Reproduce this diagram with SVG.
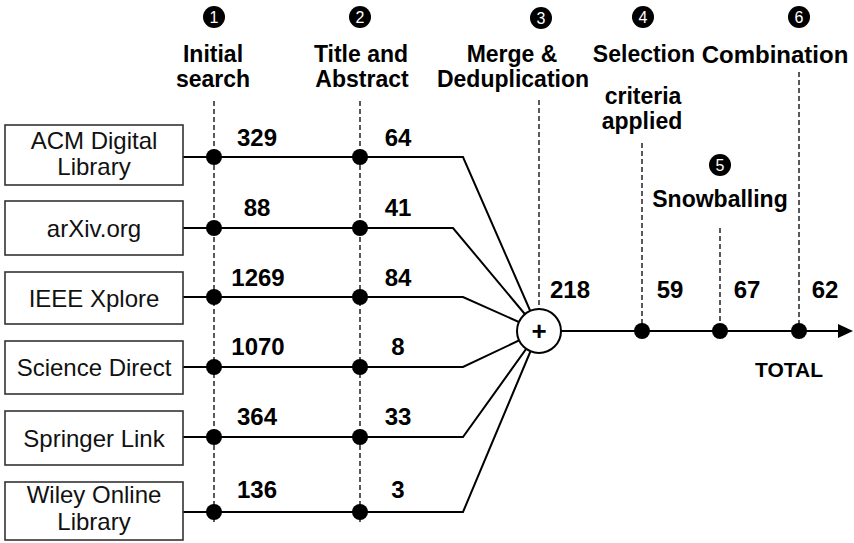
<svg xmlns="http://www.w3.org/2000/svg" width="854" height="543" viewBox="0 0 854 543">
<style>
.box{fill:#fff;stroke:#333;stroke-width:1.6}
.lbl{font-family:"Liberation Sans",Arial,sans-serif;font-size:24px;fill:#111;text-anchor:middle}
.b{font-family:"Liberation Sans",Arial,sans-serif;font-size:23px;font-weight:bold;fill:#000;text-anchor:middle}
.num{font-family:"Liberation Sans",Arial,sans-serif;font-size:24px;font-weight:bold;fill:#000;text-anchor:middle}
.n{font-family:"Liberation Sans",Arial,sans-serif;font-size:16px;fill:#fff;text-anchor:middle}
.dash{stroke:#000;stroke-width:1.3;stroke-dasharray:5 3;fill:none}
.ln{stroke:#000;stroke-width:2;fill:none}
.dot{fill:#000}
</style>
<rect width="854" height="543" fill="#fff"/>
<g id="headers">
  <circle cx="214" cy="17" r="11" fill="#000"/><text class="n" x="214" y="23">1</text>
  <text class="b" x="213" y="62">Initial</text><text class="b" x="213" y="87">search</text>
  <circle cx="360" cy="17" r="11" fill="#000"/><text class="n" x="360" y="23">2</text>
  <text class="b" x="361" y="62">Title and</text><text class="b" x="362" y="87">Abstract</text>
  <circle cx="541" cy="18" r="11" fill="#000"/><text class="n" x="541" y="24">3</text>
  <text class="b" x="512" y="62">Merge &amp;</text><text class="b" x="513" y="87">Deduplication</text>
  <circle cx="643" cy="17" r="11" fill="#000"/><text class="n" x="643" y="23">4</text>
  <text class="b" x="644" y="62">Selection</text><text class="b" x="643" y="104">criteria</text><text class="b" x="642" y="129">applied</text>
  <circle cx="799" cy="17" r="11" fill="#000"/><text class="n" x="799" y="23">6</text>
  <text class="b" x="775" y="63" style="font-size:24px">Combination</text>
  <circle cx="720" cy="165" r="11" fill="#000"/><text class="n" x="720" y="171">5</text>
  <text class="b" x="720" y="207">Snowballing</text>
</g>
<g id="connectors">
  <line class="dash" x1="214" y1="101" x2="214" y2="524"/>
  <line class="dash" x1="360" y1="101" x2="360" y2="524"/>
  <line class="dash" x1="539" y1="100" x2="539" y2="309"/>
  <line class="dash" x1="642" y1="143" x2="642" y2="331"/>
  <line class="dash" x1="720" y1="228" x2="720" y2="331"/>
  <line class="dash" x1="799" y1="72" x2="799" y2="331"/>
  <polyline class="ln" points="183,157 463,157 539,331"/>
  <polyline class="ln" points="183,228 453,228 539,331"/>
  <polyline class="ln" points="183,297 463,297 539,331"/>
  <polyline class="ln" points="183,367 463,367 539,331"/>
  <polyline class="ln" points="183,437 463,437 539,331"/>
  <polyline class="ln" points="183,512 463,512 539,331"/>
  <line class="ln" x1="561" y1="331" x2="840" y2="331"/>
  <polygon points="853,331 838,324 838,338" fill="#000"/>
  <circle class="dot" cx="214" cy="157" r="8"/><circle class="dot" cx="360" cy="157" r="8"/>
  <circle class="dot" cx="214" cy="228" r="8"/><circle class="dot" cx="360" cy="228" r="8"/>
  <circle class="dot" cx="214" cy="297" r="8"/><circle class="dot" cx="360" cy="297" r="8"/>
  <circle class="dot" cx="214" cy="367" r="8"/><circle class="dot" cx="360" cy="367" r="8"/>
  <circle class="dot" cx="214" cy="437" r="8"/><circle class="dot" cx="360" cy="437" r="8"/>
  <circle class="dot" cx="214" cy="512" r="8"/><circle class="dot" cx="360" cy="512" r="8"/>
  <circle class="dot" cx="642" cy="331" r="8"/><circle class="dot" cx="720" cy="331" r="8"/><circle class="dot" cx="799" cy="331" r="8"/>
</g>
<g id="merge">
  <circle cx="539" cy="331" r="22" fill="#fff" stroke="#000" stroke-width="2"/>
  <text class="b" x="539" y="340" style="font-size:26px">+</text>
</g>
<g id="counts">
  <text class="num" x="257" y="146">329</text><text class="num" x="398" y="146">64</text>
  <text class="num" x="257" y="216">88</text><text class="num" x="398" y="216">41</text>
  <text class="num" x="258" y="286">1269</text><text class="num" x="398" y="286">84</text>
  <text class="num" x="258" y="355">1070</text><text class="num" x="398" y="355">8</text>
  <text class="num" x="257" y="425">364</text><text class="num" x="398" y="425">33</text>
  <text class="num" x="257" y="498">136</text><text class="num" x="398" y="498">3</text>
  <text class="num" x="570" y="298">218</text>
  <text class="num" x="670" y="298">59</text>
  <text class="num" x="747" y="298">67</text>
  <text class="num" x="825" y="298">62</text>
  <text class="b" x="789" y="377" style="font-size:21px">TOTAL</text>
</g>
<g id="acm"><rect class="box" x="5" y="125" width="178" height="60"/><text class="lbl" x="94" y="149">ACM Digital</text><text class="lbl" x="94" y="175">Library</text></g>
<g id="arxiv"><rect class="box" x="5" y="201" width="178" height="54"/><text class="lbl" x="94" y="237">arXiv.org</text></g>
<g id="ieee"><rect class="box" x="5" y="272" width="178" height="52"/><text class="lbl" x="94" y="307">IEEE Xplore</text></g>
<g id="sciencedirect"><rect class="box" x="5" y="341" width="178" height="53"/><text class="lbl" x="94" y="376">Science Direct</text></g>
<g id="springer"><rect class="box" x="5" y="411" width="178" height="54"/><text class="lbl" x="94" y="447">Springer Link</text></g>
<g id="wiley"><rect class="box" x="5" y="482" width="178" height="58"/><text class="lbl" x="94" y="503">Wiley Online</text><text class="lbl" x="94" y="530">Library</text></g>
</svg>
